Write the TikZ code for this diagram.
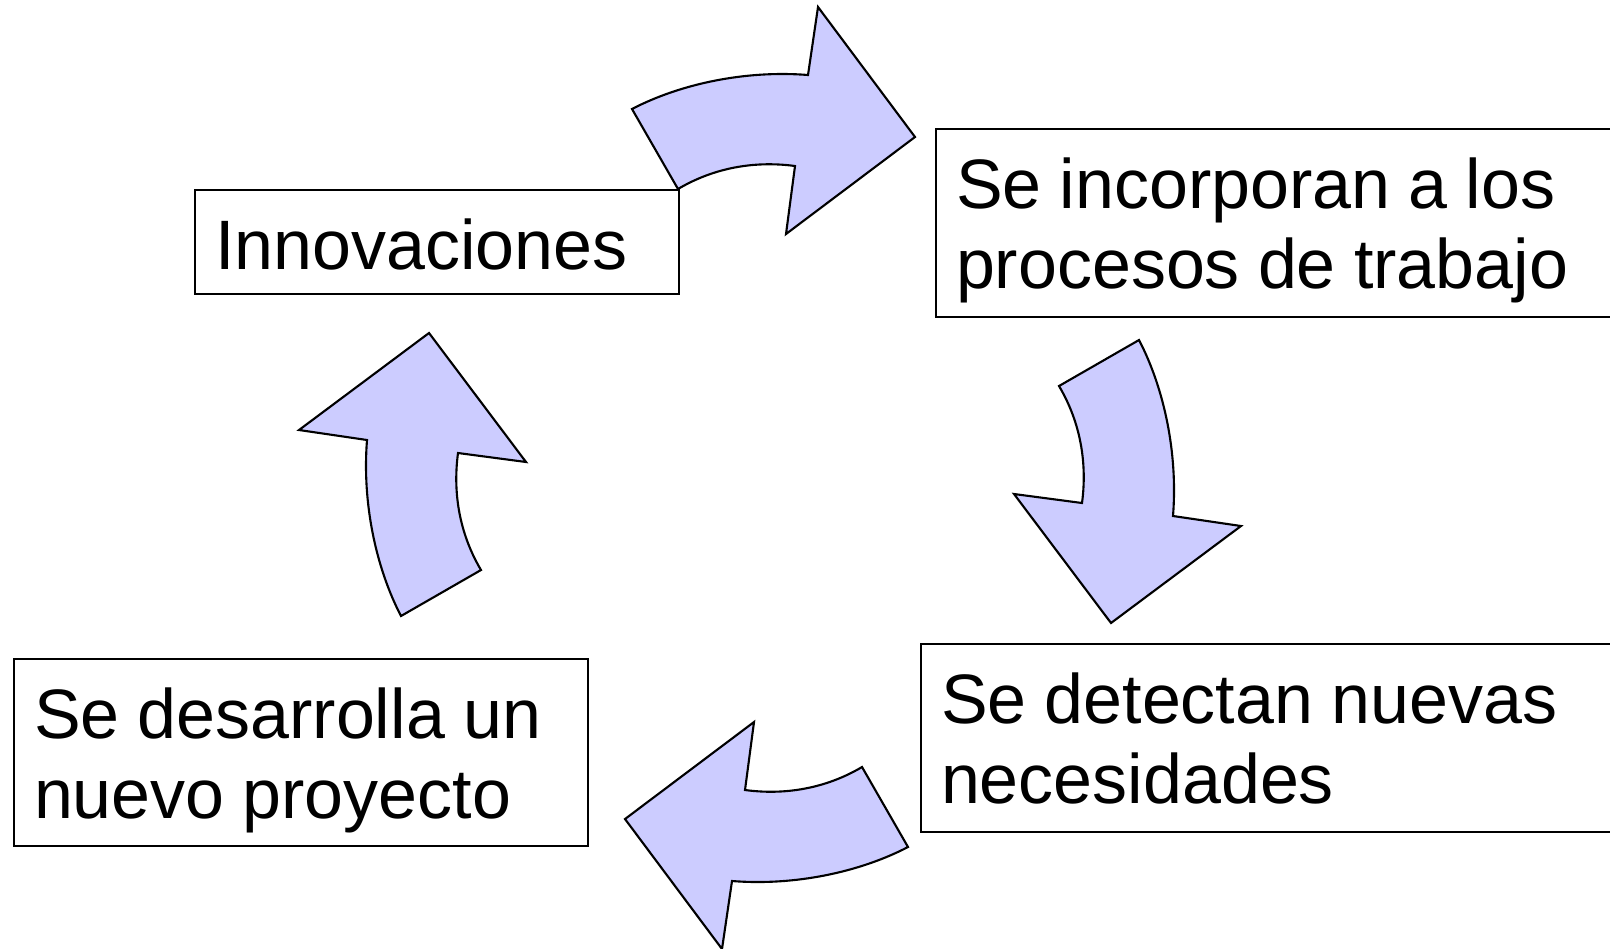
\documentclass[tikz,border=0pt]{standalone}
\usepackage{fontspec}
\setmainfont{Liberation Sans}
\usepackage{tikz}
\usepackage{xcolor}
\definecolor{lila}{RGB}{204,204,255}

\tikzset{
  caja/.style={draw, line width=0.6pt, anchor=north west, align=left,
    inner xsep=0.2cm, inner ysep=0pt, outer sep=0pt, text height=0.79cm,
    font=\fontsize{19.9}{23}\selectfont,
    execute at begin node={\spaceskip=0.26em\relax}},
  flecha/.style={fill=lila, draw, line width=0.6pt, line join=miter}
}

\begin{document}
\begin{tikzpicture}[x=0.01cm, y=-0.01cm]
		\useasboundingbox (0,0) rectangle (1610,948);
		\clip (0,0) rectangle (1610,948);
		% las cuatro flechas curvas, giradas alrededor del centro
		\foreach \ang in {0,-90,-180,-270}
			\draw[flecha, rotate around={\ang:(770,478)}] (632,109) .. controls (680,84) and (745,70) .. (808,75) -- (818,7) -- (915,137) -- (786,234) -- (795,166) .. controls (750,160) and (710,170) .. (678,189) -- cycle;
		\node[caja, text width=4.44cm, text depth=0.25cm] (innov) at (195,190) {Innovaciones};
		\node[caja, text width=6.6cm, text depth=1.09cm] (incorp) at (936,129) {Se incorporan a los\\procesos de trabajo};
		\node[caja, text width=6.6cm, text depth=1.09cm] (detect) at (921,644) {Se detectan nuevas\\necesidades};
		\node[caja, text width=5.34cm, text depth=1.08cm] (desarr) at (14,659) {Se desarrolla un\\nuevo proyecto};
	\end{tikzpicture}
\end{document}
